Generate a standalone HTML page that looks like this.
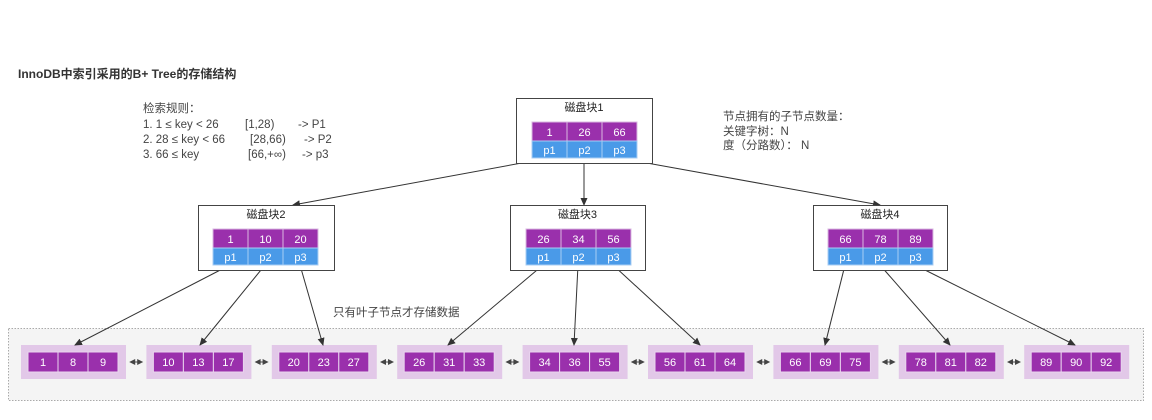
<!DOCTYPE html>
<html><head><meta charset="utf-8"><style>
html,body{margin:0;padding:0;background:#fff;}
svg{display:block;}
text{font-family:"Liberation Sans","Noto Sans CJK SC",sans-serif;}
</style></head><body>
<svg width="1152" height="420" viewBox="0 0 1152 420" xmlns="http://www.w3.org/2000/svg">
<defs>
<marker id="a" markerWidth="8" markerHeight="8" refX="7" refY="4" orient="auto" markerUnits="userSpaceOnUse"><path d="M0,0.5 L8,4 L0,7.5 z" fill="#333"/></marker>
</defs>
<text x="18" y="78" font-size="12" font-weight="bold" fill="#333">InnoDB中索引采用的B+ Tree的存储结构</text>
<g font-size="11.5" fill="#444">
<text x="143" y="112">检索规则：</text>
<text x="143" y="128">1.  1  ≤ key &lt; 26</text><text x="245" y="128">[1,28)</text><text x="298" y="128">-&gt; P1</text>
<text x="143" y="143">2.   28 ≤ key &lt; 66</text><text x="250" y="143">[28,66)</text><text x="304" y="143">-&gt; P2</text>
<text x="143" y="158">3. 66 ≤ key</text><text x="248" y="158">[66,+∞)</text><text x="302" y="158">-&gt; p3</text>
<text x="723" y="120">节点拥有的子节点数量：</text>
<text x="723" y="135">关键字树：N</text>
<text x="723" y="149">度（分路数）：  N</text>
<text x="333" y="316">只有叶子节点才存储数据</text>
</g>
<rect x="8.5" y="328.5" width="1135" height="72" fill="#f4f4f4" stroke="#aaa" stroke-dasharray="1.5,1.5"/>
<g id="leaves" font-size="11" fill="#fff" text-anchor="middle"></g>
<g stroke="#333" stroke-width="1" fill="none" marker-end="url(#a)">
<line x1="549" y1="158" x2="293" y2="205"/>
<line x1="584" y1="158" x2="584" y2="205"/>
<line x1="619" y1="158" x2="880" y2="205"/>
<line x1="230" y1="265" x2="75" y2="345"/>
<line x1="265" y1="265" x2="200" y2="345"/>
<line x1="300" y1="265" x2="323" y2="345"/>
<line x1="543" y1="265" x2="448" y2="345"/>
<line x1="578" y1="265" x2="574" y2="345"/>
<line x1="613" y1="265" x2="700" y2="345"/>
<line x1="845" y1="265" x2="825" y2="345"/>
<line x1="880" y1="265" x2="950" y2="345"/>
<line x1="915" y1="265" x2="1075" y2="345"/>
</g>
<g id="nodes" font-size="11" text-anchor="middle"></g>
</svg>
<script>
var NS="http://www.w3.org/2000/svg";
function el(p,t,a,txt){var e=document.createElementNS(NS,t);for(var k in a)e.setAttribute(k,a[k]);if(txt!=null)e.textContent=txt;p.appendChild(e);return e;}
var L=document.getElementById("leaves");
var vals=[[1,8,9],[10,13,17],[20,23,27],[26,31,33],[34,36,55],[56,61,64],[66,69,75],[78,81,82],[89,90,92]];
for(var i=0;i<9;i++){
 var gx=21+i*125.4;
 el(L,"rect",{x:gx,y:345,width:105,height:34,fill:"#e2c8e8"});
 for(var j=0;j<3;j++){
  var cx=gx+7+j*30;
  el(L,"rect",{x:cx,y:352,width:30,height:20,fill:"#9a30ac",stroke:"#e9d4ee","stroke-width":1});
  el(L,"text",{x:cx+15,y:366},vals[i][j]);
 }
 if(i<8){
  var ax=gx+105, bx=gx+125.4, m=(ax+bx)/2;
  el(L,"path",{d:"M"+(m-7)+",362 L"+(m-1)+",359 L"+(m-1)+",365 z M"+(m+7)+",362 L"+(m+1)+",359 L"+(m+1)+",365 z",fill:"#444"});
  el(L,"line",{x1:m-2,y1:362,x2:m+2,y2:362,stroke:"#444"});
 }
}
var N=document.getElementById("nodes");
var nodes=[{x:516,y:98,w:136,cx:532,t:"磁盘块1",k:[1,26,66]},
{x:198,y:205,w:136,cx:213,t:"磁盘块2",k:[1,10,20]},
{x:510,y:205,w:135,cx:526,t:"磁盘块3",k:[26,34,56]},
{x:813,y:205,w:134,cx:828,t:"磁盘块4",k:[66,78,89]}];
nodes.forEach(function(n){
 el(N,"rect",{x:n.x+0.5,y:n.y+0.5,width:n.w,height:65,fill:"#fff",stroke:"#444"});
 el(N,"text",{x:n.x+n.w/2,y:n.y+13,"font-size":11,fill:"#222"},n.t);
 for(var j=0;j<3;j++){
  var cx=n.cx+j*35;
  el(N,"rect",{x:cx,y:n.y+24,width:35,height:19,fill:"#9a30ac",stroke:"#d9b8e0","stroke-width":1});
  el(N,"text",{x:cx+17.5,y:n.y+38,fill:"#fff"},n.k[j]);
  el(N,"rect",{x:cx,y:n.y+43,width:35,height:17,fill:"#4a9ae8",stroke:"#a8cdf3","stroke-width":1});
  el(N,"text",{x:cx+17.5,y:n.y+56,fill:"#fff"},"p"+(j+1));
 }
});
</script>
</body></html>
